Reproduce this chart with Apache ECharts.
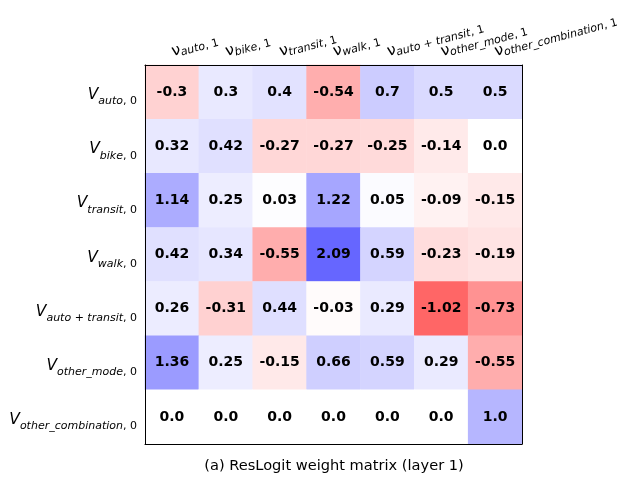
<!DOCTYPE html>
<html>
<head>
<meta charset="utf-8">
<script src="https://cdn.jsdelivr.net/npm/echarts@6/dist/echarts.min.js"></script>
<style>html,body{margin:0;padding:0;background:#fff;}#c{width:619px;height:479px;}</style>
</head>
<body>
<div id="c"></div>
<script>
// Column (output) categories, subscript names
const xSubs = ['auto', 'bike', 'transit', 'walk', 'auto + transit', 'other_mode', 'other_combination'];
// Row (input) categories, subscript names
const ySubs = ['auto', 'bike', 'transit', 'walk', 'auto + transit', 'other_mode', 'other_combination'];

// Weight matrix rows (one array per row)
const rowAuto = [-0.3, 0.3, 0.4, -0.54, 0.7, 0.5, 0.5];
const rowBike = [0.32, 0.42, -0.27, -0.27, -0.25, -0.14, 0.0];
const rowTransit = [1.14, 0.25, 0.03, 1.22, 0.05, -0.09, -0.15];
const rowWalk = [0.42, 0.34, -0.55, 2.09, 0.59, -0.23, -0.19];
const rowAutoTransit = [0.26, -0.31, 0.44, -0.03, 0.29, -1.02, -0.73];
const rowOtherMode = [1.36, 0.25, -0.15, 0.66, 0.59, 0.29, -0.55];
const rowOtherComb = [0.0, 0.0, 0.0, 0.0, 0.0, 0.0, 1.0];

const titleText = '(a) ResLogit weight matrix (layer 1)';

const rows = [rowAuto, rowBike, rowTransit, rowWalk, rowAutoTransit, rowOtherMode, rowOtherComb];
const allVals = rows.flat();
const vmin = Math.min(...allVals), vmax = Math.max(...allVals);
const ALPHA = 0.6;

function colorFor(v) {
  let f, r, g, b;
  if (v >= 0) {
    f = v / vmax;
    const w = Math.round(255 * (1 - ALPHA * f));
    r = w; g = w; b = 255;
  } else {
    f = v / vmin;
    const w = Math.round(255 * (1 - ALPHA * f));
    r = 255; g = w; b = w;
  }
  return `rgb(${r},${g},${b})`;
}
function fmt(v) {
  let s = String(Math.round(v * 100) / 100);
  if (s.indexOf('.') < 0) s += '.0';
  return s;
}

const data = [];
rows.forEach((row, yi) => row.forEach((v, xi) => {
  data.push({ value: [xi, yi, v], itemStyle: { color: colorFor(v) } });
}));

const xCats = xSubs.map((s, i) => String(i));
const yCats = ySubs.map((s, i) => String(i));

const FONT = 'DejaVu Sans';
const subRich = {
  main: { fontFamily: FONT, fontSize: 15.5, fontStyle: 'italic', color: '#000', verticalAlign: 'bottom', padding: [0, 0, 4, 0] },
  s: { fontFamily: FONT, fontSize: 11, fontStyle: 'italic', color: '#000', verticalAlign: 'bottom' },
  u: { fontFamily: FONT, fontSize: 11, color: '#000', verticalAlign: 'bottom' }
};
const xRich = {
  nu: { fontFamily: FONT, fontSize: 15.5, color: '#000', lineHeight: 18 },
  s: { fontFamily: FONT, fontSize: 11, fontStyle: 'italic', color: '#000', lineHeight: 18, padding: [6, 0, 0, 0] },
  u: { fontFamily: FONT, fontSize: 11, color: '#000', lineHeight: 18, padding: [6, 0, 0, 0] }
};

function subText(sub) {
  const parts = sub.split(' + ');
  return parts.map(p => `{s|${p}}`).join('{u| + }');
}

const chart = echarts.init(document.getElementById('c'), null, { renderer: 'canvas' });
chart.setOption({
  animation: false,
  backgroundColor: '#fff',
  title: {
    text: titleText, left: 329, top: 454, textAlign: 'center',
    textStyle: { fontFamily: FONT, fontSize: 14.6, fontWeight: 'normal', color: '#000' }
  },
  grid: { left: 145, top: 65, width: 377, height: 379, containLabel: false, outerBoundsMode: 'none' },
  xAxis: [{
    type: 'category', data: xCats, position: 'top', z: 10,
    axisLine: { show: true, lineStyle: { color: '#000', width: 1 } },
    axisTick: { show: false }, splitLine: { show: false },
    axisLabel: {
      rotate: -15, margin: 13, interval: 0, hideOverlap: false,
      align: 'left', verticalAlign: 'middle',
      formatter: (v) => `{nu|ν}${subText(xSubs[+v])}{u|, 1}`,
      rich: xRich
    }
  }, {
    type: 'category', data: xCats, position: 'bottom', z: 10,
    axisLine: { show: true, lineStyle: { color: '#000', width: 1 } },
    axisTick: { show: false }, axisLabel: { show: false }, splitLine: { show: false }
  }],
  yAxis: [{
    type: 'category', data: yCats, inverse: true, position: 'left', z: 10,
    axisLine: { show: true, lineStyle: { color: '#000', width: 1 } },
    axisTick: { show: false }, splitLine: { show: false },
    axisLabel: {
      margin: 8, interval: 0, padding: [10, 0, 0, 0],
      formatter: (v) => `{main|V}${subText(ySubs[+v])}{u|, 0}`,
      rich: subRich
    }
  }, {
    type: 'category', data: yCats, inverse: true, position: 'right', z: 10,
    axisLine: { show: true, lineStyle: { color: '#000', width: 1 } },
    axisTick: { show: false }, axisLabel: { show: false }, splitLine: { show: false }
  }],
  series: [{
    type: 'heatmap', xAxisIndex: 0, yAxisIndex: 0,
    data: data,
    label: {
      show: true, formatter: (p) => fmt(p.value[2]),
      fontFamily: FONT, fontWeight: 'bold', fontSize: 14, color: '#000'
    },
    emphasis: { disabled: true }
  }]
});
</script>
</body>
</html>
